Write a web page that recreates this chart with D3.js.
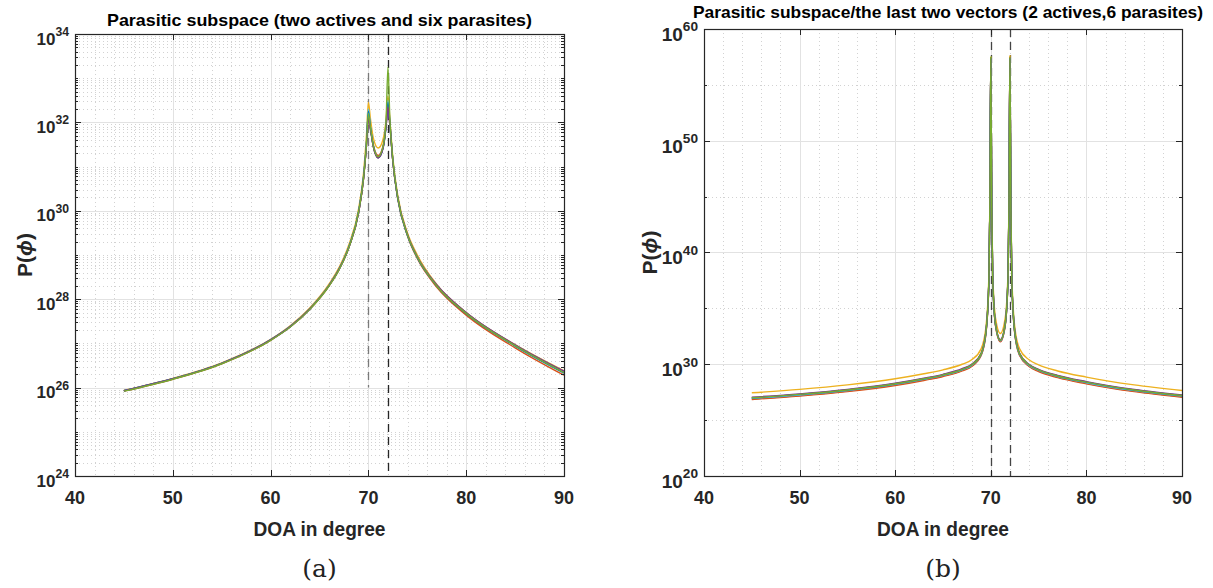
<!DOCTYPE html>
<html>
<head>
<meta charset="utf-8">
<script src="https://cdn.jsdelivr.net/npm/d3@7"></script>
<style>
  body { margin: 0; background: #fff; }
  svg text { font-family: 'Liberation Sans', Arial, sans-serif; font-weight: bold; fill: #262626; }
  svg text.caption { font-family: 'DejaVu Serif', 'Liberation Serif', serif; font-weight: normal; fill: #222; }
</style>
</head>
<body>
<svg id="chart" width="1213" height="588"></svg>
<script>
// ---- data (values are log10 of P(phi)) ----
const blue = '#0072BD', orange = '#D95319', yellow = '#EDB120', purple = '#7E2F8E',
      green = '#77AC30', cyan = '#4DBEEE', darkRed = '#A2142F';

// panel (a): two actives and six parasites
const degA = [45, 50, 55, 60, 62, 64, 66, 67, 68, 69, 69.5, 69.8, 70, 70.2, 70.5, 71, 71.5, 71.8, 72, 72.2, 72.5, 73, 74, 75, 77, 80, 85, 90];
const aRed    = [25.93, 26.2, 26.55, 27.08, 27.38, 27.78, 28.32, 28.68, 29.18, 29.97, 30.74, 31.5, 32.15, 31.88, 31.46, 31.2, 31.43, 31.92, 32.3, 31.92, 31.12, 30.29, 29.45, 28.95, 28.31, 27.69, 26.96, 26.36];
const aOrange = [25.92, 26.19, 26.54, 27.07, 27.37, 27.77, 28.31, 28.67, 29.17, 29.97, 30.72, 31.5, 32.2, 31.9, 31.5, 31.25, 31.47, 31.95, 32.55, 31.98, 31.12, 30.27, 29.43, 28.92, 28.27, 27.64, 26.9, 26.28];
const aYellow = [25.94, 26.21, 26.56, 27.09, 27.4, 27.8, 28.35, 28.72, 29.23, 30.05, 30.85, 31.7, 32.45, 32.1, 31.65, 31.42, 31.62, 32.05, 32.6, 32.05, 31.2, 30.35, 29.5, 29.0, 28.33, 27.7, 26.97, 26.38];
const aCyan   = [25.93, 26.2, 26.55, 27.08, 27.38, 27.78, 28.32, 28.68, 29.18, 29.98, 30.76, 31.55, 32.3, 31.92, 31.48, 31.22, 31.44, 31.95, 32.5, 31.98, 31.14, 30.29, 29.45, 28.95, 28.31, 27.69, 26.96, 26.36];
const aBlue   = [25.93, 26.2, 26.55, 27.08, 27.38, 27.78, 28.32, 28.68, 29.18, 29.98, 30.75, 31.5, 32.25, 31.9, 31.47, 31.2, 31.42, 31.9, 32.45, 31.95, 31.12, 30.28, 29.44, 28.94, 28.3, 27.67, 26.94, 26.33];
const aPurple = [25.93, 26.2, 26.55, 27.08, 27.38, 27.78, 28.32, 28.68, 29.17, 29.96, 30.72, 31.48, 32.1, 31.85, 31.45, 31.2, 31.42, 31.9, 32.35, 31.95, 31.12, 30.3, 29.46, 28.96, 28.32, 27.7, 26.97, 26.37];
const aGreen  = [25.92, 26.19, 26.54, 27.07, 27.37, 27.77, 28.31, 28.67, 29.17, 29.97, 30.73, 31.5, 32.2, 31.9, 31.47, 31.22, 31.45, 32.0, 33.25, 32.05, 31.15, 30.3, 29.45, 28.95, 28.3, 27.68, 26.95, 26.34];

// panel (b): the last two vectors
const degB = [45, 50, 55, 60, 63, 65, 67, 68, 69, 69.5, 69.8, 69.9, 70, 70.1, 70.2, 70.5, 71, 71.5, 71.8, 71.9, 72, 72.1, 72.2, 72.5, 73, 74, 75, 77, 80, 85, 90];
const bRed    = [26.9, 27.2, 27.6, 28.15, 28.6, 28.95, 29.45, 29.85, 30.85, 32.85, 37.35, 43.85, 57.25, 43.85, 37.65, 33.45, 32.05, 33.45, 37.65, 43.85, 57.3, 43.85, 37.35, 32.85, 30.85, 29.85, 29.4, 28.85, 28.3, 27.6, 27.1];
const bOrange = [26.85, 27.15, 27.55, 28.1, 28.55, 28.9, 29.4, 29.8, 30.8, 32.8, 37.3, 43.8, 57.2, 43.8, 37.6, 33.4, 32.0, 33.4, 37.6, 43.8, 57.5, 43.8, 37.3, 32.8, 30.8, 29.8, 29.35, 28.8, 28.25, 27.55, 27.05];
const bYellow = [27.45, 27.75, 28.15, 28.7, 29.15, 29.5, 30.0, 30.4, 31.4, 33.4, 37.9, 44.4, 57.5, 44.4, 38.2, 34.1, 32.75, 34.1, 38.2, 44.4, 57.6, 44.4, 37.9, 33.4, 31.4, 30.4, 29.95, 29.4, 28.85, 28.15, 27.65];
const bCyan   = [26.95, 27.25, 27.65, 28.2, 28.65, 29.0, 29.5, 29.9, 30.9, 32.9, 37.4, 43.9, 57.3, 43.9, 37.7, 33.5, 32.1, 33.5, 37.7, 43.9, 57.35, 43.9, 37.4, 32.9, 30.9, 29.9, 29.45, 28.9, 28.35, 27.65, 27.15];
const bBlue   = [27.0, 27.3, 27.7, 28.25, 28.7, 29.05, 29.55, 29.95, 30.95, 32.95, 37.45, 43.95, 57.3, 43.95, 37.75, 33.55, 32.15, 33.55, 37.75, 43.95, 57.3, 43.95, 37.45, 32.95, 30.95, 29.95, 29.5, 28.95, 28.4, 27.7, 27.2];
const bPurple = [27.05, 27.35, 27.75, 28.3, 28.75, 29.1, 29.6, 30.0, 31.0, 33.0, 37.5, 44.0, 57.35, 44.0, 37.8, 33.6, 32.2, 33.6, 37.8, 44.0, 57.4, 44.0, 37.5, 33.0, 31.0, 30.0, 29.55, 29.0, 28.45, 27.75, 27.25];
const bGreen  = [27.0, 27.3, 27.7, 28.25, 28.7, 29.05, 29.55, 29.95, 30.95, 32.95, 37.45, 43.95, 57.5, 43.95, 37.75, 33.55, 32.15, 33.55, 37.75, 43.95, 57.45, 43.95, 37.45, 32.95, 30.95, 29.95, 29.5, 28.95, 28.4, 27.7, 27.2];

const drawOrder = [darkRed, orange, yellow, cyan, blue, purple, green]; // last one ends on top

const xTicks = [40, 50, 60, 70, 80, 90];
const aYTicks = [24, 26, 28, 30, 32, 34];      // exponents with labels
const bYTicks = [20, 30, 40, 50, 60];
const bYMinor = [25, 35, 45, 55];
const sourceDoa = [70, 72];

const svg = d3.select('#chart');

function drawPanel(p) {
  const g = svg.append('g');
  const x = d3.scaleLinear().domain([40, 90]).range([p.x0, p.x1]);
  const y = d3.scaleLog().domain([10 ** p.yLo, 10 ** p.yHi]).range([p.y1, p.y0]);
  const px = v => Math.round(x(v)) + 0.5;
  const py = v => Math.round(y(v)) + 0.5;

  // minor grid
  const xMinor = x.ticks(25).filter(v => xTicks.indexOf(v) < 0);
  g.selectAll('.xminor').data(xMinor).enter().append('line')
    .attr('x1', px).attr('x2', px).attr('y1', p.y0).attr('y2', p.y1)
    .attr('stroke', '#d2d2d2').attr('stroke-dasharray', '1,3');
  g.selectAll('.yminor').data(p.yMinor).enter().append('line')
    .attr('x1', p.x0).attr('x2', p.x1).attr('y1', py).attr('y2', py)
    .attr('stroke', '#d2d2d2').attr('stroke-dasharray', '1,3');

  // major grid
  g.selectAll('.xmajor').data(xTicks.slice(1, -1)).enter().append('line')
    .attr('x1', px).attr('x2', px).attr('y1', p.y0).attr('y2', p.y1)
    .attr('stroke', '#e2e2e2');
  g.selectAll('.ymajor').data(p.yTicks.slice(1, -1).map(e => 10 ** e)).enter().append('line')
    .attr('x1', p.x0).attr('x2', p.x1).attr('y1', py).attr('y2', py)
    .attr('stroke', '#e2e2e2');

  // source direction markers
  p.dashes.forEach(d => {
    g.append('line')
      .attr('x1', px(d.doa)).attr('x2', px(d.doa))
      .attr('y1', p.y0).attr('y2', d.to ? y(10 ** d.to) : p.y1)
      .attr('stroke', d.color).attr('stroke-width', 1.3).attr('stroke-dasharray', '8,5');
  });

  // curves
  const line = d3.line()
    .x(d => x(d[0]))
    .y(d => y(10 ** d[1]))
    .curve(d3.curveMonotoneX);
  p.series.forEach((s, i) => {
    g.append('path')
      .datum(p.deg.map((v, j) => [v, s[j]]))
      .attr('d', line)
      .attr('fill', 'none')
      .attr('stroke', drawOrder[i])
      .attr('stroke-width', 1.4);
  });

  // frame and ticks
  g.append('rect')
    .attr('x', p.x0 + 0.5).attr('y', p.y0 + 0.5)
    .attr('width', p.x1 - p.x0).attr('height', p.y1 - p.y0)
    .attr('fill', 'none').attr('stroke', '#262626').attr('stroke-width', 1.2);
  xTicks.forEach(v => {
    g.append('line').attr('x1', px(v)).attr('x2', px(v)).attr('y1', p.y1).attr('y2', p.y1 - 6).attr('stroke', '#262626');
    g.append('line').attr('x1', px(v)).attr('x2', px(v)).attr('y1', p.y0).attr('y2', p.y0 + 6).attr('stroke', '#262626');
  });
  p.yTicks.forEach(e => {
    const yy = py(10 ** e);
    g.append('line').attr('x1', p.x0).attr('x2', p.x0 + 6).attr('y1', yy).attr('y2', yy).attr('stroke', '#262626');
    g.append('line').attr('x1', p.x1).attr('x2', p.x1 - 6).attr('y1', yy).attr('y2', yy).attr('stroke', '#262626');
  });
  p.yMinor.forEach(v => {
    const yy = py(v);
    g.append('line').attr('x1', p.x0).attr('x2', p.x0 + 3).attr('y1', yy).attr('y2', yy).attr('stroke', '#262626');
    g.append('line').attr('x1', p.x1).attr('x2', p.x1 - 3).attr('y1', yy).attr('y2', yy).attr('stroke', '#262626');
  });

  // tick labels
  g.selectAll('.xlab').data(xTicks).enter().append('text')
    .attr('x', x).attr('y', p.y1 + 28)
    .attr('text-anchor', 'middle').style('font-size', '18px')
    .text(d => d);
  p.yTicks.forEach(e => {
    const t = g.append('text')
      .attr('x', p.x0 - 6).attr('y', y(10 ** e) + p.ySize * 0.62)
      .attr('text-anchor', 'end').style('font-size', p.ySize + 'px');
    t.append('tspan').text('10');
    t.append('tspan').attr('dy', -p.ySize * 0.5).style('font-size', (p.ySize * 0.72) + 'px').text(e);
  });

  // titles and labels
  g.append('text')
    .attr('x', p.titleX || (p.x0 + p.x1) / 2).attr('y', p.titleY)
    .attr('text-anchor', 'middle').style('font-size', p.titleSize + 'px').style('fill', '#000')
    .attr('textLength', p.titleLen).attr('lengthAdjust', 'spacingAndGlyphs')
    .text(p.title);
  g.append('text')
    .attr('x', (p.x0 + p.x1) / 2).attr('y', 536)
    .attr('text-anchor', 'middle').style('font-size', '21px')
    .attr('textLength', 132).attr('lengthAdjust', 'spacingAndGlyphs')
    .text('DOA in degree');
  const yl = g.append('text')
    .attr('transform', `translate(${p.ylabX},${(p.y0 + p.y1) / 2}) rotate(-90)`)
    .attr('text-anchor', 'middle').style('font-size', '21px');
  yl.append('tspan').text('P(');
  yl.append('tspan').style('font-style', 'italic').text('\u03D5');
  yl.append('tspan').text(')');
  g.append('text').attr('class', 'caption')
    .attr('x', (p.x0 + p.x1) / 2).attr('y', 577)
    .attr('text-anchor', 'middle').style('font-size', '25px')
    .text(p.caption);
}

// minor log ticks for panel (a): 2..9 of each decade and the odd decades
const aYMinor = [];
d3.range(24, 34).forEach(d => {
  d3.range(1, 10).forEach(m => {
    if (m === 1 && aYTicks.indexOf(d) >= 0) return;
    aYMinor.push(m * 10 ** d);
  });
});

drawPanel({
  x0: 75, x1: 564, y0: 34, y1: 476, yLo: 24, yHi: 34,
  yTicks: aYTicks, yMinor: aYMinor, ySize: 17,
  deg: degA, series: [aRed, aOrange, aYellow, aCyan, aBlue, aPurple, aGreen],
  dashes: [{ doa: sourceDoa[0], color: '#7a7a7a', to: 26 }, { doa: sourceDoa[1], color: '#262626' }],
  title: 'Parasitic subspace (two actives and six parasites)', titleY: 26, titleSize: 17, titleLen: 425,
  ylabX: 32, caption: '(a)'
});

drawPanel({
  x0: 704, x1: 1182, y0: 29, y1: 476, yLo: 20, yHi: 60,
  yTicks: bYTicks, yMinor: bYMinor.map(e => 10 ** e), ySize: 19,
  deg: degB, series: [bRed, bOrange, bYellow, bCyan, bBlue, bPurple, bGreen],
  dashes: [{ doa: sourceDoa[0], color: '#444' }, { doa: sourceDoa[1], color: '#444' }],
  title: 'Parasitic subspace/the last two vectors (2 actives,6 parasites)', titleX: 948, titleY: 18, titleSize: 17, titleLen: 510,
  ylabX: 657, caption: '(b)'
});
</script>
</body>
</html>
